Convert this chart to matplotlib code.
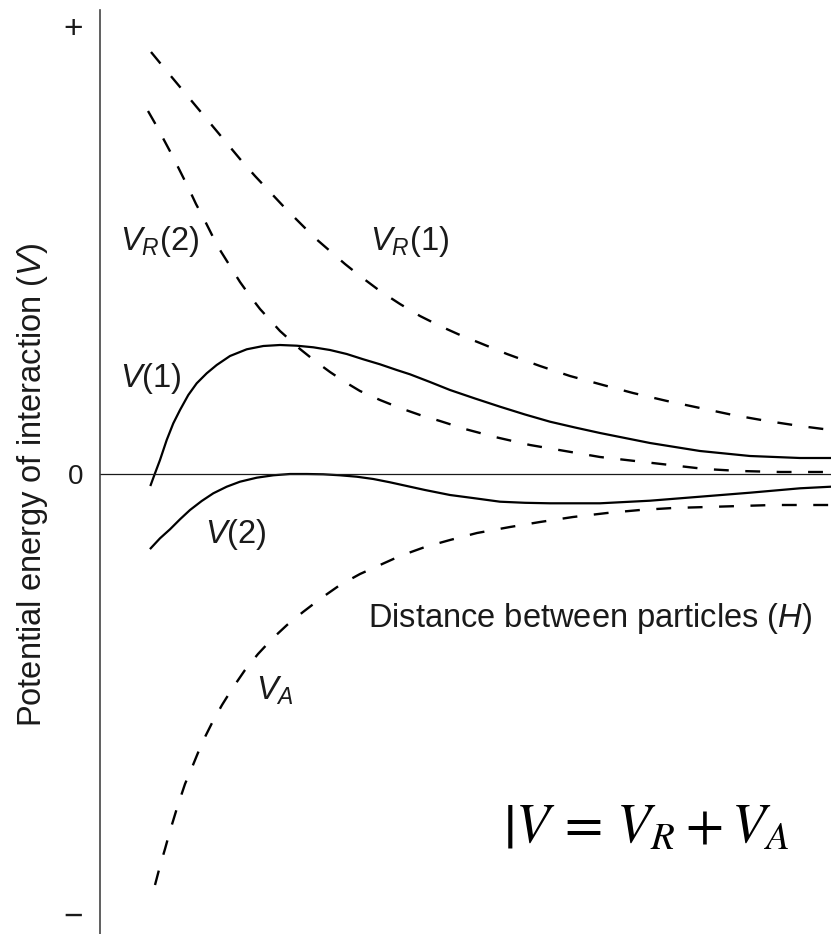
import matplotlib
matplotlib.use('Agg')
import matplotlib.pyplot as plt

plt.rcParams['font.family'] = ['Liberation Sans', 'DejaVu Sans']
plt.rcParams['mathtext.fontset'] = 'custom'
plt.rcParams['mathtext.rm'] = 'Liberation Sans'
plt.rcParams['mathtext.it'] = 'Liberation Sans:italic'

# values (x: distance, y: potential energy, arbitrary units)
vr1_x = [0.51, 0.65, 0.80, 0.95, 1.10, 1.25, 1.40, 1.55, 1.70, 1.85, 2.00, 2.15, 2.30, 2.45,
         2.60, 2.80, 3.00, 3.20, 3.40, 3.60, 3.80, 4.07, 4.40, 4.70, 5.03, 5.33, 5.67, 6.00,
         6.33, 6.67, 7.00, 7.31]
vr1_y = [4.22, 4.05, 3.87, 3.69, 3.51, 3.33, 3.15, 2.98, 2.82, 2.66, 2.51, 2.36, 2.23, 2.10,
         1.98, 1.83, 1.70, 1.58, 1.48, 1.39, 1.31, 1.20, 1.08, 0.98, 0.89, 0.81, 0.73, 0.66,
         0.59, 0.53, 0.48, 0.44]

vr2_x = [0.48, 0.56, 0.64, 0.72, 0.80, 0.88, 0.96, 1.04, 1.12, 1.20, 1.30, 1.40, 1.50, 1.60,
         1.70, 1.80, 1.90, 2.00, 2.15, 2.30, 2.45, 2.60, 2.80, 3.00, 3.20, 3.40, 3.65, 3.95,
         4.30, 4.65, 5.00, 5.35, 5.70, 6.05, 6.40, 6.80, 7.31]
vr2_y = [3.63, 3.49, 3.34, 3.19, 3.03, 2.87, 2.70, 2.55, 2.39, 2.24, 2.08, 1.92, 1.78, 1.65,
         1.54, 1.43, 1.34, 1.25, 1.13, 1.02, 0.92, 0.83, 0.74, 0.66, 0.59, 0.53, 0.45, 0.37,
         0.29, 0.23, 0.17, 0.13, 0.09, 0.05, 0.03, 0.02, 0.02]

v1_x = [0.507, 0.55, 0.60, 0.667, 0.733, 0.80, 0.883, 0.967, 1.067, 1.167, 1.30, 1.467, 1.633,
        1.80, 1.967, 2.133, 2.30, 2.467, 2.633, 2.80, 2.967, 3.10, 3.30, 3.50, 3.75, 4.00,
        4.25, 4.50, 4.75, 5.00, 5.50, 6.00, 6.50, 7.00, 7.31]
v1_y = [-0.11, 0.007, 0.14, 0.34, 0.507, 0.64, 0.79, 0.907, 1.007, 1.09, 1.18, 1.247, 1.28,
        1.29, 1.283, 1.267, 1.24, 1.20, 1.147, 1.097, 1.04, 0.997, 0.92, 0.84, 0.755, 0.673,
        0.595, 0.523, 0.465, 0.41, 0.31, 0.23, 0.18, 0.16, 0.16]

v2_x = [0.507, 0.60, 0.70, 0.80, 0.90, 1.017, 1.133, 1.267, 1.40, 1.567, 1.733, 1.90, 2.067,
        2.233, 2.40, 2.567, 2.733, 2.90, 3.10, 3.25, 3.50, 3.75, 4.00, 4.25, 4.50, 5.00, 5.50,
        6.00, 6.50, 7.00, 7.31]
v2_y = [-0.743, -0.643, -0.553, -0.453, -0.36, -0.27, -0.193, -0.127, -0.077, -0.037, -0.013,
        0.0, 0.0, -0.003, -0.013, -0.027, -0.05, -0.083, -0.127, -0.16, -0.21, -0.243, -0.277,
        -0.288, -0.293, -0.293, -0.267, -0.227, -0.187, -0.143, -0.127]

va_x = [0.55, 0.60, 0.65, 0.70, 0.77, 0.85, 0.93, 1.02, 1.12, 1.22, 1.32, 1.45, 1.58, 1.72,
        1.87, 2.03, 2.20, 2.40, 2.60, 2.80, 3.00, 3.25, 3.50, 3.77, 4.10, 4.40, 4.73, 5.07,
        5.40, 5.73, 6.07, 6.40, 6.73, 7.07, 7.31]
va_y = [-4.11, -3.92, -3.75, -3.57, -3.34, -3.10, -2.91, -2.69, -2.49, -2.31, -2.15, -1.96,
        -1.80, -1.65, -1.51, -1.38, -1.25, -1.11, -1.00, -0.91, -0.82, -0.73, -0.66, -0.59,
        -0.53, -0.48, -0.43, -0.39, -0.36, -0.34, -0.33, -0.32, -0.31, -0.31, -0.31]

ytick_pos = [4.48, 0.0, -4.40]
ytick_lab = ['+', '0', '\u2212']

ink = '#1a1a1a'

fig = plt.figure(figsize=(8.31, 9.34), dpi=100)
ax = fig.add_axes([100 / 831, 0, 731 / 831, 924 / 934])
ax.set_xlim(0, 7.31)
ax.set_ylim(-4.60, 4.64)

dash = (0, (6.3, 7.0))
for xs, ys in [(vr1_x, vr1_y), (vr2_x, vr2_y), (va_x, va_y)]:
    ax.plot(xs, ys, color='black', lw=1.7, linestyle=dash)
ax.plot(v1_x, v1_y, color='black', lw=1.6)
ax.plot(v2_x, v2_y, color='black', lw=1.6)
ax.axhline(0, color=ink, lw=0.9)

for s in ['top', 'right', 'bottom']:
    ax.spines[s].set_visible(False)
ax.spines['left'].set_color('#444444')
ax.spines['left'].set_linewidth(1.2)
ax.set_xticks([])
ax.set_yticks(ytick_pos)
ax.set_yticklabels(ytick_lab, color=ink)
for lab, size in zip(ax.get_yticklabels(), [24, 20, 24]):
    lab.set_fontsize(size)
ax.tick_params(axis='y', length=0, pad=12)

fs = 23.5
ax.text(0.60, 2.24, r'$V_R\mathrm{(2)}$', fontsize=fs, color=ink, ha='center', va='baseline')
ax.text(3.10, 2.24, r'$V_R\mathrm{(1)}$', fontsize=fs, color=ink, ha='center', va='baseline')
ax.text(0.51, 0.87, r'$V\mathrm{(1)}$', fontsize=fs, color=ink, ha='center', va='baseline')
ax.text(1.36, -0.69, r'$V\mathrm{(2)}$', fontsize=fs, color=ink, ha='center', va='baseline')
ax.text(1.745, -2.26, r'$V_A$', fontsize=fs, color=ink, ha='center', va='baseline')
ax.text(4.90, -1.53, r'Distance between particles ($H$)', fontsize=fs, color=ink,
        ha='center', va='baseline')
ax.text(5.46, -3.68, r'$\left\vert V\,=\,V_R + V_A\right.$', fontsize=40, color='black',
        ha='center', va='baseline', math_fontfamily='stix')

fig.text(33 / 831, 1 - 485 / 934, r'Potential energy of interaction ($V$)', fontsize=fs,
         color=ink, rotation=90, ha='center', va='center')

fig.savefig('out.png', dpi=100, facecolor='white')
